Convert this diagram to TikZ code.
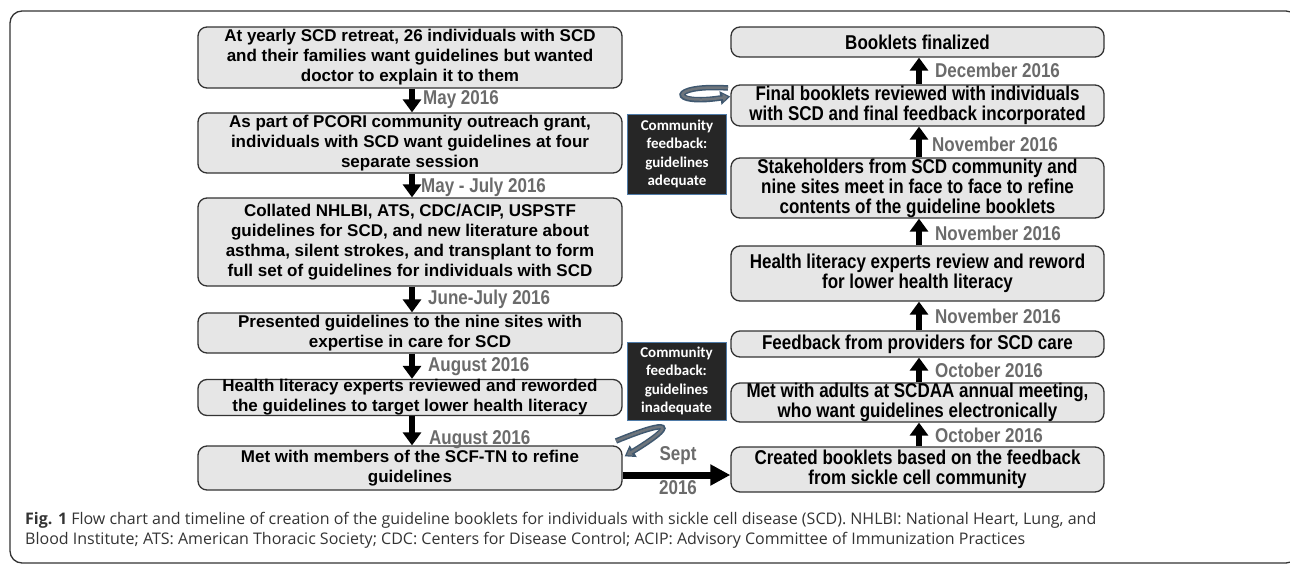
\documentclass[tikz,border=0pt]{standalone}
\usepackage{fontspec}
\setmainfont{Liberation Sans}
\newfontfamily\narrowfont[FakeStretch=0.85]{Liberation Sans}
\newfontfamily\calfont{Carlito}
\newfontfamily\capfont{Open Sans}
\usetikzlibrary{arrows.meta}
\definecolor{boxfill}{HTML}{E6E6E6}
\definecolor{boxline}{HTML}{333333}
\definecolor{datecol}{HTML}{6B6B6B}
\definecolor{fbfill}{HTML}{262626}
\definecolor{fbline}{HTML}{4F7BA8}
\definecolor{loopedge}{HTML}{3F5870}
\definecolor{loopfill}{HTML}{6E757C}
\definecolor{capcol}{HTML}{333333}

\begin{document}
\begin{tikzpicture}[x=1pt,y=-1pt]
    \tikzstyle{leftbox}=[draw=boxline,fill=boxfill,rounded corners=9pt,line width=1.3pt,minimum width=424pt,align=center,inner sep=0pt,font=\bfseries\fontsize{17}{20}\selectfont]
    \tikzstyle{rightbox}=[draw=boxline,fill=boxfill,rounded corners=9pt,line width=1.3pt,minimum width=373pt,align=center,inner sep=0pt,font=\narrowfont\bfseries\fontsize{20}{20}\selectfont]
    \tikzstyle{date}=[text=datecol,anchor=west,inner sep=0pt,font=\narrowfont\bfseries\fontsize{20}{22}\selectfont]
    \tikzstyle{feedback}=[fill=fbfill,draw=fbline,line width=0.8pt,text=white,align=center,minimum width=99pt,minimum height=80pt,inner sep=0pt,font=\calfont\bfseries\fontsize{15}{18.5}\selectfont]
    \tikzstyle{downarr}=[line width=6pt,-{Triangle[width=18pt,length=13pt]}]
    \tikzstyle{loopout}=[draw=loopedge,line width=5.5pt,-{Triangle[width=13pt,length=10pt]}]
    \tikzstyle{loopin}=[draw=loopfill,line width=2.5pt,shorten >=2.5pt,-{Triangle[width=7pt,length=5pt]}]
    \useasboundingbox (0,0) rectangle (1290,565);
    \draw[line width=1.3pt,draw=boxline,rounded corners=12pt] (10,11) rectangle (1298,563);

    \node[leftbox,minimum height=61pt] (yearly) at (410,57.5) {At yearly SCD retreat, 26 individuals with SCD\\and their families want guidelines but wanted\\doctor to explain it to them};
    \node[leftbox,minimum height=60pt] (pcori) at (410,143) {As part of PCORI community outreach grant,\\individuals with SCD want guidelines at four\\separate session};
    \node[leftbox,minimum height=88pt] (collated) at (410,242) {Collated NHLBI, ATS, CDC/ACIP, USPSTF\\guidelines for SCD, and new literature about\\asthma, silent strokes, and transplant to form\\full set of guidelines for individuals with SCD};
    \node[leftbox,minimum height=40pt] (presented) at (410,333) {Presented guidelines to the nine sites with\\expertise in care for SCD};
    \node[leftbox,minimum height=36pt] (reworded) at (410,397.5) {Health literacy experts reviewed and reworded\\the guidelines to target lower health literacy};
    \node[leftbox,minimum height=44pt] (scftn) at (410,468) {Met with members of the SCF-TN to refine\\guidelines};

    \node[rightbox,minimum height=30pt] (finalized) at (917.5,42) {Booklets finalized};
    \node[rightbox,minimum height=41pt] (finalrev) at (917.5,105.5) {Final booklets reviewed with individuals\\with SCD and final feedback incorporated};
    \node[rightbox,minimum height=60pt] (stake) at (917.5,188) {Stakeholders from SCD community and\\nine sites meet in face to face to refine\\contents of the guideline booklets};
    \node[rightbox,minimum height=55pt] (review) at (917.5,273.5) {Health literacy experts review and reword\\for lower health literacy};
    \node[rightbox,minimum height=26pt] (providers) at (917.5,344) {Feedback from providers for SCD care};
    \node[rightbox,minimum height=39pt] (scdaa) at (917.5,402.5) {Met with adults at SCDAA annual meeting,\\who want guidelines electronically};
    \node[rightbox,minimum height=45pt] (created) at (917.5,469.5) {Created booklets based on the feedback\\from sickle cell community};

    \node[feedback] (adequate) at (677,154) {Community\\feedback:\\guidelines\\adequate};
    \node[feedback,minimum height=78pt] (inadequate) at (676.5,381) {Community\\feedback:\\guidelines\\inadequate};

    \draw[downarr] ([xshift=2pt]yearly.south) -- ([xshift=2pt]pcori.north);
    \draw[downarr] ([xshift=2pt]pcori.south) -- ([xshift=2pt]collated.north);
    \draw[downarr] ([xshift=2pt]collated.south) -- ([xshift=2pt]presented.north);
    \draw[downarr] ([xshift=2pt]presented.south) -- ([xshift=2pt]reworded.north);
    \draw[downarr] ([xshift=2pt]reworded.south) -- ([xshift=2pt]scftn.north);
    \draw[line width=7pt,-{Triangle[width=20pt,length=20pt]}] ([yshift=-7pt]scftn.east) -- ([yshift=-7pt]scftn.east -| created.west);
    \draw[downarr] ([xshift=1.5pt]created.north) -- ([xshift=1.5pt]scdaa.south);
    \draw[downarr] ([xshift=1.5pt]scdaa.north) -- ([xshift=1.5pt]providers.south);
    \draw[downarr] ([xshift=1.5pt]providers.north) -- ([xshift=1.5pt]review.south);
    \draw[downarr] ([xshift=1.5pt]review.north) -- ([xshift=1.5pt]stake.south);
    \draw[downarr] ([xshift=1.5pt]stake.north) -- ([xshift=1.5pt]finalrev.south);
    \draw[downarr] ([xshift=1.5pt]finalrev.north) -- ([xshift=1.5pt]finalized.south);

    \node[date] (may) at (423,100) {May 2016};
    \node[date] (mayjul) at (421,187) {May - July 2016};
    \node[date] (junjul) at (428,299) {June-July 2016};
    \node[date] (aug1) at (428,367) {August 2016};
    \node[date] (aug2) at (429,440) {August 2016};
    \node[date,anchor=center] (sept) at (678,456) {Sept};
    \node[date,anchor=center] (septyr) at (678,488) {2016};
    \node[date] (dec) at (935,70) {December 2016};
    \node[date] (nov1) at (932,144) {November 2016};
    \node[date] (nov2) at (935,233) {November 2016};
    \node[date] (nov3) at (935,316) {November 2016};
    \node[date] (oct1) at (935,370) {October 2016};
    \node[date] (oct2) at (935,435) {October 2016};

    \coordinate (loopstart) at (728,88);
    \draw[loopout] (loopstart) .. controls (668,84) and (668,106) .. ([yshift=9pt]finalrev.west);
    \draw[loopin] (loopstart) .. controls (668,84) and (668,106) .. ([yshift=9pt]finalrev.west);
    \coordinate (hairpin) at (616,441);
    \draw[loopout] (hairpin) .. controls (672,418) and (678,424) .. ([xshift=2pt,yshift=-11pt]scftn.north east);
    \draw[loopin] (hairpin) .. controls (672,418) and (678,424) .. ([xshift=2pt,yshift=-11pt]scftn.north east);

    \node[anchor=north west,align=left,inner sep=0pt,text=capcol,font=\capfont\fontsize{16}{20}\selectfont] (caption) at (25,512) {\textbf{Fig. 1} Flow chart and timeline of creation of the guideline booklets for individuals with sickle cell disease (SCD). NHLBI: National Heart, Lung, and\\Blood Institute; ATS: American Thoracic Society; CDC: Centers for Disease Control; ACIP: Advisory Committee of Immunization Practices};
\end{tikzpicture}
\end{document}
